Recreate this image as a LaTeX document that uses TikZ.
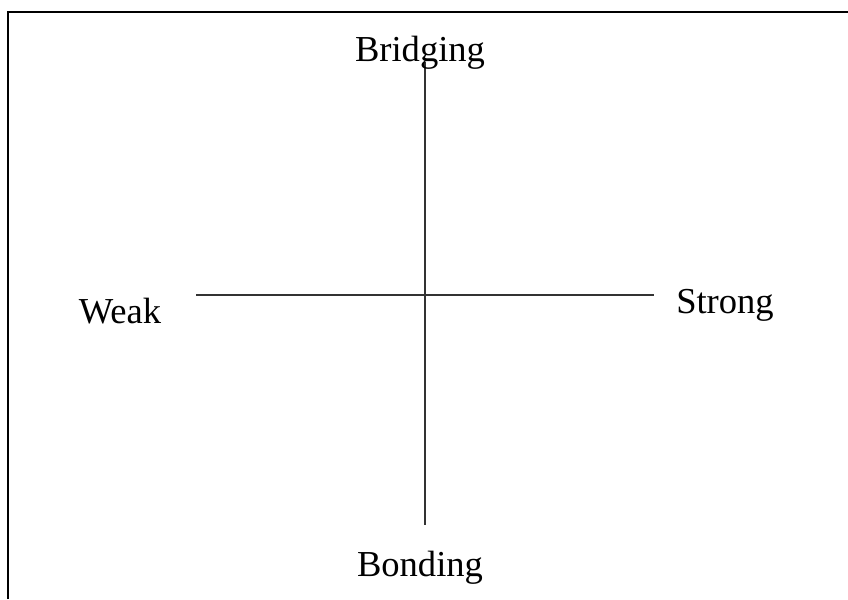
\documentclass[tikz,border=0pt]{standalone}
\usepackage{fontspec}
\setmainfont{Liberation Serif}
\begin{document}
\begin{tikzpicture}[x=0.025cm,y=-0.025cm,
  axis/.style={line width=1.7pt, black!80},
  label/.style={anchor=base, inner sep=0pt, font=\fontsize{26}{30}\selectfont}]
  \useasboundingbox (0,0) rectangle (848,599);
  % frame
  \draw[line width=2.1pt] (8,599) -- (8,12);
  \draw[line width=1.3pt] (7,12) -- (848,12);
  % axes
  \coordinate (left) at (196,295);
  \coordinate (right) at (654,295);
  \coordinate (top) at (425,62);
  \coordinate (bottom) at (425,525);
  \draw[axis] (left) -- (right);
  \draw[axis] (top) -- (bottom);
  \node[label] (bridging) at (420,61) {Bridging};
  \node[label] (bonding) at (420,576) {Bonding};
  \node[label] (weak) at (120,323) {Weak};
  \node[label] (strong) at (725,313) {Strong};
\end{tikzpicture}
\end{document}
